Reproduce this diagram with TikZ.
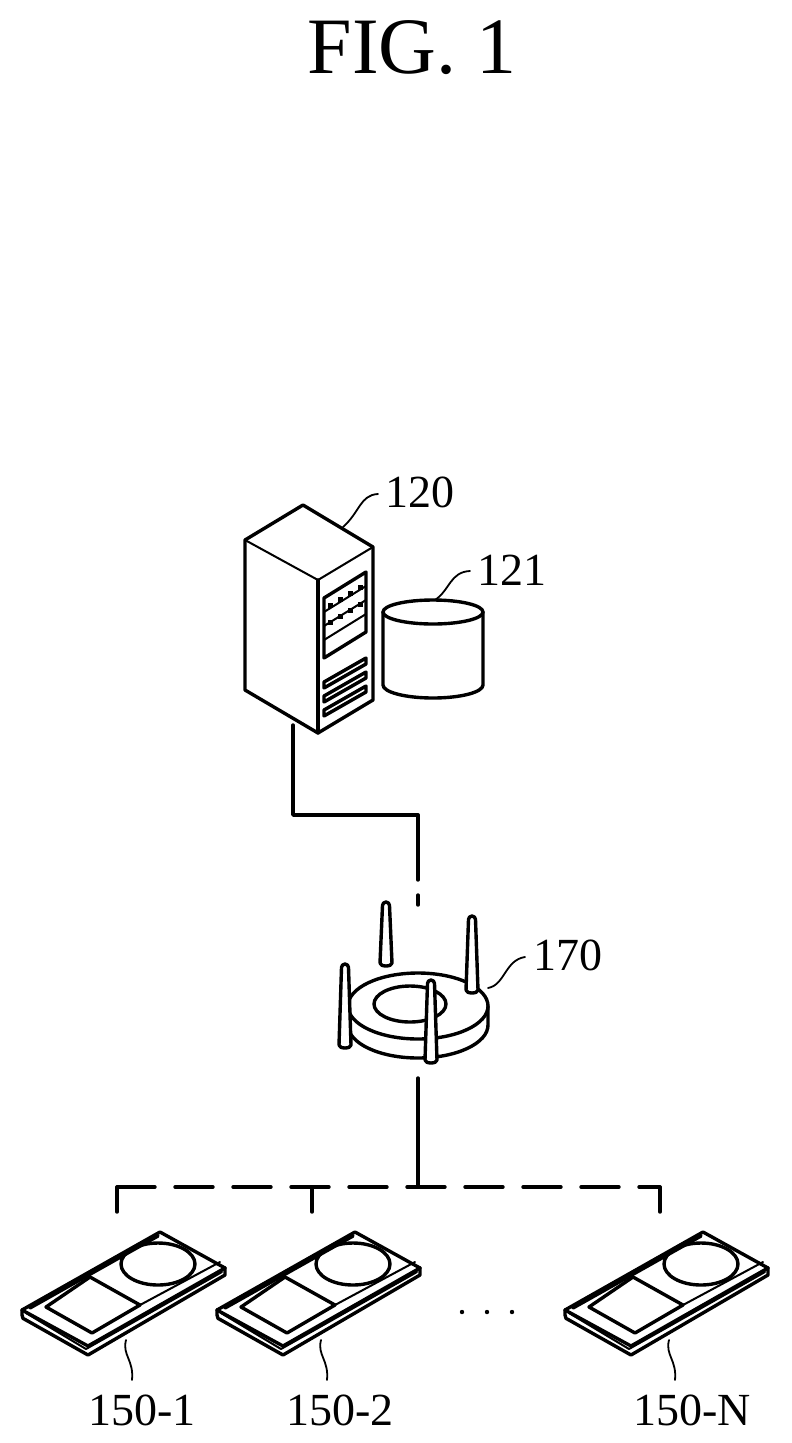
\documentclass[tikz,border=0pt]{standalone}
\usepackage{fontspec}
\setmainfont{Liberation Serif}
\begin{document}
\begin{tikzpicture}[x=1pt,y=-1pt,line join=round,line cap=round,
  ln/.style={line width=3.4pt},
  th/.style={line width=2pt},
  lbl/.style={font=\fontsize{46}{46}\selectfont,inner sep=0pt},
  lead/.style={line width=1.8pt},
  device/.pic={
    \coordinate (L) at (0,0); \coordinate (T) at (138,-78);
    \coordinate (R) at (203,-42); \coordinate (B) at (66,36);
    \draw[ln,fill=white] (0,0) -- (0,5) to[out=-90,in=180] (4,10) -- (66,45) -- (203,-35) -- (203,-42) -- cycle;
    \draw[ln,fill=white] (L) -- (T) -- (R) -- (B) -- cycle;
    \draw[th] (4,3) -- (64,39) -- (200,-38);
    \draw[ln] (8,-2) -- (136,-74);
    \draw[ln] (24,-3) -- (68,-33) -- (118,-5) -- (70,23) -- cycle;
    \draw[th] (118,-5) -- (198,-48);
    \draw[ln] (136,-46) ellipse (37 and 21);
  }]
\useasboundingbox (0,0) rectangle (792,1443);
\node[font=\fontsize{80}{80}\selectfont] (fig) at (412,48) {FIG. 1};

% server
\draw[ln,fill=white] (303,505) -- (373,547) -- (373,700) -- (318,733) -- (245,690) -- (245,540) -- cycle;
\draw[th] (245,540) -- (318,580) -- (373,547);
\draw[ln] (318,580) -- (318,733);
\node[inner sep=0pt] (server) at (309,620) {};
\draw[ln] (324,598) -- (366,572) -- (366,632) -- (324,658) -- cycle;
\foreach \k in {0,1,2}{\draw[th] (324,612+\k*14) -- (366,586+\k*14);}
\foreach \k in {0,1,2,3}{\fill (328+\k*10,603-\k*6) rectangle ++(5,5); \fill (328+\k*10,620-\k*6) rectangle ++(5,5);}
\foreach \k in {0,1,2}{\draw[ln] (324,682+\k*14) -- (366,658+\k*14) -- (366,664+\k*14) -- (324,688+\k*14) -- cycle;}
\node[lbl] (l120) at (420,492) {120};
\draw[lead] (343,527) .. controls (360,512) and (360,495) .. (378,494);

% database
\node[inner sep=0pt] (db) at (433,655) {};
\draw[ln,fill=white] (383,612) -- (383,685) arc[start angle=180,end angle=0,x radius=50,y radius=13] -- (483,612);
\draw[ln] (433,612) ellipse (50 and 12);
\node[lbl] (l121) at (512,570) {121};
\draw[lead] (435,600) .. controls (450,590) and (450,572) .. (470,571);

% connector server -> router
\coordinate (s1) at (293,725);
\coordinate (r1) at (418,905);
\draw[ln] (s1) -- (293,815) -| (418,880);
\draw[ln] (418,895) -- (r1);

% router
\node[inner sep=0pt] (router) at (418,1010) {};
\draw[ln,fill=white] (348,1006) -- (348,1025) arc[start angle=180,end angle=0,x radius=70,y radius=33] -- (488,1006);
\draw[ln,fill=white] (418,1006) ellipse (70 and 33);
\draw[ln] (410,1004) ellipse (36 and 18);
\foreach \x/\ya/\yb in {386/902/963, 472/916/990, 345/964/1045, 431/980/1060}{
  \draw[ln,fill=white] (\x-6,\yb) -- (\x-3.5,\ya+3.5) arc[start angle=180,end angle=360,radius=3.5] -- (\x+6,\yb) arc[start angle=0,end angle=180,x radius=6,y radius=3];}
\node[lbl] (l170) at (568,955) {170};
\draw[lead] (488,988) .. controls (505,985) and (505,960) .. (525,957);

% bus
\coordinate (r2) at (418,1078);
\coordinate (bus) at (418,1187);
\draw[ln] (r2) -- (bus);
\draw[ln,dash pattern=on 38pt off 20pt] (117,1187) -- (660,1187);
\draw[ln] (117,1187) -- (117,1212);
\draw[ln] (312,1187) -- (312,1212);
\draw[ln] (660,1187) -- (660,1212);

\pic at (22,1310) {device};
\pic at (217,1310) {device};
\pic at (565,1310) {device};
\foreach \x in {462,487,512}{\fill (\x,1312) circle (2.2);}
\node[inner sep=0pt] (dots) at (487,1312) {};

\node[lbl] (d1) at (142,1410) {150-1};
\node[lbl] (d2) at (340,1410) {150-2};
\node[lbl] (dn) at (692,1410) {150-N};
\foreach \x in {126,321,669}{\draw[lead] (\x,1340) .. controls (\x-4,1355) and (\x+8,1360) .. (\x+6,1380);}
\end{tikzpicture}
\end{document}
